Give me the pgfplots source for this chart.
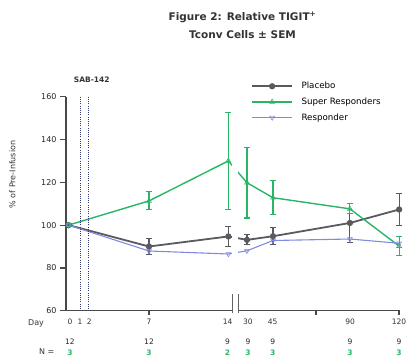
\documentclass[border=0pt]{standalone}
\usepackage{fontspec}
\setmainfont{DejaVu Sans}
\usepackage{pgfplots}
\usepackage{pgfplotstable}
\pgfplotsset{compat=1.18}
\definecolor{pgray}{RGB}{88,90,96}
\definecolor{sgreen}{RGB}{40,182,102}
\definecolor{rblue}{RGB}{128,138,226}
\definecolor{axgray}{RGB}{72,72,76}
\definecolor{dotnavy}{RGB}{45,55,110}

% x positions: days 0-14 at 1 unit/day; days 30-120 on a compressed segment after the break
\pgfplotstableread{
x      y      e
0      100    0.6
7      90.0   3.7
13.9   94.7   4.5
15.52  93.1   2.3
17.78  94.8   3.9
24.47  101.0  9.0
28.75  107.3  7.5
}\placebo
\pgfplotstableread{
x      y      e
0      100    0
7      111.3  4.2
13.9   130.0  22.6
15.52  119.8  16.5
17.78  112.8  7.9
24.47  107.6  2.3
28.75  90.2   4.5
}\superresp
\pgfplotstableread{
x      y
0      100
7      87.9
13.9   86.5
15.52  88.0
17.78  92.8
24.47  93.5
28.75  91.5
}\resp

\tikzset{nblack/.style={font=\fontsize{7.5}{9}\selectfont, text=black!85},
         ngreen/.style={font=\bfseries\fontsize{7.5}{9}\selectfont, text=sgreen}}

\begin{document}
\begin{tikzpicture}[x=1pt,y=1pt]
\path[use as bounding box] (0,0) rectangle (409,362);
\begin{axis}[
  at={(66pt,51.3pt)}, anchor=south west,
  scale only axis, width=334pt, height=214pt,
  xmin=-0.2174, xmax=28.826, ymin=60, ymax=160,
  axis x line=bottom, axis y line=left,
  x axis line style={draw=none},
  y axis line style={-, draw=axgray, line width=1.5pt},
  clip=false,
  tick align=outside,
  ytick={60,80,...,160},
  y tick style={draw=axgray, line width=1.2pt},
  major tick length=6pt,
  yticklabel style={font=\fontsize{8}{9}\selectfont, text=black!85},
  /pgf/number format/assume math mode=true,
  xtick={0.13,1.0,1.81,7,13.83,15.6,17.76,24.48,28.74},
  xticklabels={0,1,2,7,14,30,45,90,120},
  x tick style={draw=none},
  xticklabel style={font=\fontsize{7.5}{9}\selectfont, text=black!80, yshift=1pt},
  extra x ticks={7,21.52,28.74},
  extra x tick labels={},
  extra x tick style={x tick style={draw=axgray, line width=1.2pt}, major tick length=4pt},
  legend style={draw=none, fill=none, at={(axis description cs:0.545,1.085)}, anchor=north west,
    font=\fontsize{8.7}{10}\selectfont, row sep=4.5pt, column sep=7pt, legend cell align=left,
    nodes={inner sep=1.5pt}},
  legend image code/.code={\draw[mark repeat=2,mark phase=2,#1] plot coordinates {(0pt,0pt)(20pt,0pt)(40pt,0pt)};},
  error bars/error bar style={line width=1.1pt},
  error bars/error mark options={rotate=90, mark size=3pt, line width=1.1pt},
]
\addplot[color=pgray, line width=1.8pt, mark=*, mark size=2.2pt,
  error bars/.cd, y dir=both, y explicit]
  table[x=x, y=y, y error=e] {\placebo};
\addlegendentry{Placebo}
\addplot[color=sgreen, line width=1.4pt, mark=triangle, mark size=2.8pt, mark options={fill=white, line width=0.6pt},
  error bars/.cd, y dir=both, y explicit]
  table[x=x, y=y, y error=e] {\superresp};
\addlegendentry{Super Responders}
\addplot[color=rblue, line width=1.1pt, mark=triangle, mark size=2.8pt, mark options={rotate=180, fill=white, line width=0.6pt}]
  table[x=x, y=y] {\resp};
\addlegendentry{Responder}

% break gap
\fill[white] (axis cs:14.22,60.5) rectangle (axis cs:14.74,160);
% x axis segments
\draw[axgray, line width=1.5pt] (axis cs:-0.2174,60) -- (axis cs:14.22,60);
\draw[axgray, line width=1.5pt] (axis cs:14.74,60) -- (axis cs:28.826,60);
\draw[axgray!85, line width=0.6pt] (axis cs:14.22,58.8) -- (axis cs:14.22,67.8);
\draw[axgray!85, line width=0.6pt] (axis cs:14.74,58.8) -- (axis cs:14.74,67.8);
% infusion days
\draw[dotnavy, line width=0.9pt, dash pattern=on 0.9pt off 1.3pt] (axis cs:1.06,60.8) -- (axis cs:1.06,160);
\draw[dotnavy, line width=0.9pt, dash pattern=on 0.9pt off 1.3pt] (axis cs:1.72,60.8) -- (axis cs:1.72,160);

% N row
\node[nblack] at (axis cs:0.13,45.5) {12};
\node[nblack] at (axis cs:7,45.5) {12};
\node[nblack] at (axis cs:13.83,45.5) {9};
\node[nblack] at (axis cs:15.6,45.5) {9};
\node[nblack] at (axis cs:17.76,45.5) {9};
\node[nblack] at (axis cs:24.48,45.5) {9};
\node[nblack] at (axis cs:28.74,45.5) {9};
\node[ngreen] at (axis cs:0.13,40.2) {3};
\node[ngreen] at (axis cs:7,40.2) {3};
\node[ngreen] at (axis cs:13.83,40.2) {2};
\node[ngreen] at (axis cs:15.6,40.2) {3};
\node[ngreen] at (axis cs:17.76,40.2) {3};
\node[ngreen] at (axis cs:24.48,40.2) {3};
\node[ngreen] at (axis cs:28.74,40.2) {3};
\end{axis}

\node[font=\bfseries\fontsize{10.5}{17.5}\selectfont, align=center, text=black!80] at (242.5,336.5)
  {Figure 2: Relative TIGIT\textsuperscript{+}\\Tconv Cells ± SEM};
\node[font=\bfseries\fontsize{7.5}{9}\selectfont, text=black!80] at (91.7,282) {SAB-142};
\node[rotate=90, font=\fontsize{8}{9}\selectfont, text=black!80] at (12.5,187.5) {\% of Pre-Infusion};
\node[font=\fontsize{8}{9}\selectfont, text=black!80] at (36,38.7) {Day};
\node[font=\fontsize{8}{9}\selectfont, text=black!80] at (46.7,10) {N =};
\end{tikzpicture}
\end{document}
